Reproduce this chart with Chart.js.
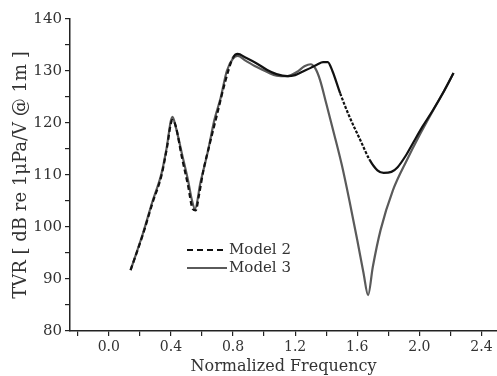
<!DOCTYPE html>
<html>
<head>
    <title>TVR chart</title>
    <style>
        body { margin: 0; background: #fff; }
        #tvrChart { display: block; }
    </style>
</head>
<body>
    <canvas id="tvrChart" width="497" height="376"></canvas>

    <script src="https://cdn.jsdelivr.net/npm/chart.js"></script>
    <script>
        // values
        const m2X = [0.14, 0.22, 0.28, 0.34, 0.37, 0.41, 0.43, 0.47, 0.51, 0.54, 0.56, 0.58, 0.61, 0.65, 0.70, 0.75, 0.80, 0.83, 0.88, 0.95, 1.02, 1.08, 1.15, 1.20, 1.25, 1.30, 1.34, 1.38, 1.41, 1.44, 1.49, 1.55, 1.62, 1.68, 1.73, 1.77, 1.82, 1.86, 1.91, 1.96, 2.02, 2.09, 2.16, 2.22];
        const m2Y = [91.7, 98.6, 104.5, 110.0, 114.5, 120.6, 119.5, 113.5, 108.0, 103.5, 103.2, 106.0, 111.0, 116.0, 122.0, 128.0, 132.6, 133.3, 132.6, 131.5, 130.2, 129.4, 129.0, 129.2, 129.9, 130.6, 131.2, 131.7, 131.7, 130.0, 125.7, 121.2, 116.7, 112.9, 110.9, 110.4, 110.6, 111.5, 113.6, 116.2, 119.3, 122.6, 126.2, 129.6];

        const m3X = [0.14, 0.22, 0.28, 0.34, 0.37, 0.41, 0.43, 0.47, 0.51, 0.535, 0.555, 0.59, 0.64, 0.68, 0.72, 0.76, 0.80, 0.83, 0.88, 0.95, 1.02, 1.08, 1.15, 1.21, 1.26, 1.30, 1.33, 1.36, 1.40, 1.45, 1.50, 1.55, 1.60, 1.64, 1.67, 1.70, 1.75, 1.83, 1.92, 2.00, 2.09, 2.16, 2.22];
        const m3Y = [91.7, 98.8, 104.8, 110.4, 114.8, 121.2, 119.4, 114.2, 109.0, 105.2, 103.5, 108.5, 114.8, 120.6, 124.8, 130.0, 132.4, 132.9, 132.0, 130.8, 129.8, 129.1, 129.0, 129.8, 130.9, 131.3, 130.5, 128.3, 123.8, 118.0, 112.0, 105.0, 97.5, 91.2, 86.9, 92.3, 99.4, 107.1, 112.9, 117.6, 122.5, 126.2, 129.6];

        const xTicks = [-0.2, 0.0, 0.2, 0.4, 0.6, 0.8, 1.0, 1.2, 1.4, 1.6, 1.8, 2.0, 2.2, 2.4];
        const xLabelled = [0.0, 0.4, 0.8, 1.2, 1.6, 2.0, 2.4];
        const yTicks = [80, 85, 90, 95, 100, 105, 110, 115, 120, 125, 130, 135, 140];
        const yLabelled = [80, 90, 100, 110, 120, 130, 140];

        const seriesNames = ['Model 2', 'Model 3'];
        const seriesColors = ['#111111', '#5a5a5a'];

        const toPoints = (xs, ys) => xs.map((x, i) => ({ x: x, y: ys[i] }));
        const serif = '"DejaVu Serif", "Liberation Serif", serif';
        const axisColor = '#222';
        const textColor = '#333';

        // Model 2 looks dashed on the left part and dotted on the steep drop
        const model2Dash = ctx => {
            const x = ctx.p0.parsed.x;
            if (x < 0.8) return [5, 3];
            if (x > 1.46 && x < 1.64) return [3, 1.5];
            return undefined;
        };

        // legend inside the plot, drawn by hand
        const innerLegend = {
            id: 'innerLegend',
            afterDraw(chart) {
                const ctx = chart.ctx;
                const x0 = 187, x1 = 227;
                const rows = [250, 268];
                ctx.save();
                rows.forEach((y, i) => {
                    ctx.beginPath();
                    ctx.lineWidth = 2.2;
                    ctx.strokeStyle = seriesColors[i];
                    ctx.setLineDash(i === 0 ? [6, 4] : []);
                    ctx.moveTo(x0, y);
                    ctx.lineTo(x1, y);
                    ctx.stroke();
                    ctx.setLineDash([]);
                    ctx.fillStyle = textColor;
                    ctx.font = '15px ' + serif;
                    ctx.textBaseline = 'middle';
                    ctx.fillText(seriesNames[i], x1 + 2, y);
                });
                ctx.restore();
            }
        };

        const canvas = document.getElementById('tvrChart');
        new Chart(canvas, {
            type: 'line',
            data: {
                datasets: [
                    {
                        label: seriesNames[0],
                        data: toPoints(m2X, m2Y),
                        borderColor: seriesColors[0],
                        borderWidth: 2.2,
                        pointRadius: 0,
                        cubicInterpolationMode: 'monotone',
                        segment: { borderDash: model2Dash }
                    },
                    {
                        label: seriesNames[1],
                        data: toPoints(m3X, m3Y),
                        borderColor: seriesColors[1],
                        borderWidth: 2.2,
                        pointRadius: 0,
                        cubicInterpolationMode: 'monotone'
                    }
                ]
            },
            options: {
                responsive: false,
                animation: false,
                layout: { padding: { top: 19, right: 0, left: 0, bottom: 0 } },
                plugins: {
                    legend: { display: false },
                    tooltip: { enabled: false }
                },
                scales: {
                    x: {
                        type: 'linear',
                        min: -0.25,
                        max: 2.5,
                        afterBuildTicks: scale => { scale.ticks = xTicks.map(v => ({ value: v })); },
                        afterFit: scale => { scale.height = 45; },
                        border: { color: axisColor, width: 1.5 },
                        grid: { drawOnChartArea: false, drawTicks: true, tickLength: 5, color: axisColor, lineWidth: 1.2 },
                        ticks: {
                            autoSkip: false,
                            maxRotation: 0,
                            padding: 3,
                            color: textColor,
                            font: { family: serif, size: 14 },
                            callback: v => xLabelled.some(t => Math.abs(t - v) < 1e-6) ? v.toFixed(1) : ''
                        },
                        title: {
                            display: true,
                            text: 'Normalized Frequency',
                            color: textColor,
                            font: { family: serif, size: 16 },
                            padding: { top: 0, bottom: 0 }
                        }
                    },
                    y: {
                        min: 80,
                        max: 140,
                        afterBuildTicks: scale => { scale.ticks = yTicks.map(v => ({ value: v })); },
                        afterFit: scale => { scale.width = 70; },
                        border: { color: axisColor, width: 1.5 },
                        grid: { drawOnChartArea: false, drawTicks: true, tickLength: 5, color: axisColor, lineWidth: 1.2 },
                        ticks: {
                            autoSkip: false,
                            padding: 3,
                            color: textColor,
                            font: { family: serif, size: 15 },
                            callback: v => yLabelled.includes(v) ? String(v) : ''
                        },
                        title: {
                            display: true,
                            text: 'TVR [ dB re 1\u03bcPa/V @ 1m ]',
                            color: textColor,
                            font: { family: serif, size: 18 },
                            padding: { top: 11, bottom: 0 }
                        }
                    }
                }
            },
            plugins: [innerLegend]
        });
    </script>
</body>
</html>
